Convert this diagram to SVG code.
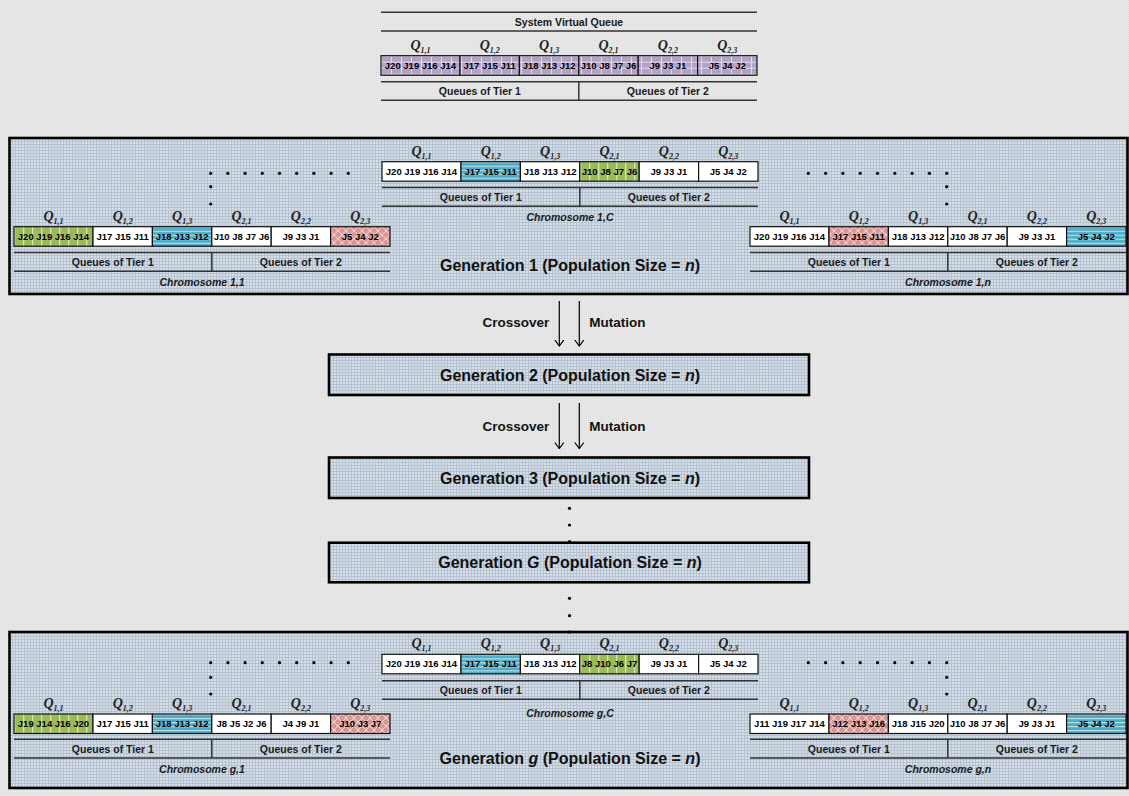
<svg xmlns="http://www.w3.org/2000/svg" width="1129" height="796" viewBox="0 0 1129 796">
<style>
.cell{stroke:#111;stroke-width:1.2}
.w{fill:#fff}
.g{fill:url(#pGreen)}
.b{fill:url(#pBlue)}
.r{fill:url(#pRed)}
.p{fill:url(#pPurple)}
.jt{font-family:"Liberation Sans",Arial,sans-serif;font-weight:bold;font-size:9.5px;text-anchor:middle;fill:#000}
.q{font-family:"Liberation Serif","Times New Roman",serif;font-style:italic;font-weight:bold;font-size:14px;text-anchor:middle;fill:#222}
.qs{font-size:8px}
.hl{stroke:#333;stroke-width:1.5;fill:none}
.tier{font-family:"Liberation Sans",Arial,sans-serif;font-weight:bold;font-size:10.5px;text-anchor:middle;fill:#1a1a1a}
.chr{font-family:"Liberation Sans",Arial,sans-serif;font-style:italic;font-weight:bold;font-size:10.5px;text-anchor:middle;fill:#1a1a1a}
.gen{font-family:"Liberation Sans",Arial,sans-serif;font-weight:bold;font-size:16px;text-anchor:middle;fill:#111}
.op{font-family:"Liberation Sans",Arial,sans-serif;font-weight:bold;font-size:13.5px;fill:#111}
.box{fill:url(#pBox);stroke:#000;stroke-width:2.6}
.arrow{stroke:#000;stroke-width:1.2;fill:none;marker-end:url(#arr)}
.dot{fill:#000}
</style>
<defs>
<pattern id="pBg" width="2" height="2" patternUnits="userSpaceOnUse"><rect width="2" height="2" fill="#e8e8e8"/><rect width="1" height="1" fill="#dcdcdc"/></pattern>
<pattern id="pBox" width="3" height="3" patternUnits="userSpaceOnUse"><rect width="3" height="3" fill="#d6dee8"/><rect width="3" height="1" fill="#b4c2d2"/><rect width="1" height="3" fill="#b4c2d2"/></pattern>
<pattern id="pGreen" width="9" height="10" patternUnits="userSpaceOnUse"><rect width="9" height="10" fill="#9bbb59"/><rect x="0" width="1.3" height="10" fill="#d5e3b6"/></pattern>
<pattern id="pBlue" width="10" height="4" patternUnits="userSpaceOnUse"><rect width="10" height="4" fill="#4bacc6"/><rect width="10" height="1.2" fill="#b9dfe9"/></pattern>
<pattern id="pRed" width="8" height="8" patternUnits="userSpaceOnUse"><rect width="8" height="8" fill="#d99694"/><path d="M0,0 L8,8 M8,0 L0,8" stroke="#f3dddc" stroke-width="1"/></pattern>
<pattern id="pPurple" width="10" height="6" patternUnits="userSpaceOnUse"><rect width="10" height="6" fill="#b3a2c7"/><rect width="10" height="1" fill="#e2dbeb"/><rect width="1" height="6" fill="#e2dbeb"/></pattern>
<marker id="arr" viewBox="0 0 7 10" refX="6.5" refY="5" markerWidth="7" markerHeight="10" markerUnits="userSpaceOnUse" orient="auto"><path d="M0.5,0.5 L6.5,5 L0.5,9.5" fill="none" stroke="#000" stroke-width="1.2"/></marker>
</defs>

<rect width="1129" height="796" fill="url(#pBg)"/>

<!-- System virtual queue -->
<g id="system-virtual-queue">
<line class="hl" x1="381" y1="12.3" x2="757" y2="12.3"/>
<text class="tier" x="569" y="25.5">System Virtual Queue</text>
<line class="hl" x1="381" y1="31" x2="757" y2="31"/>
<g transform="translate(381,55.7)">
<text class="q" x="39.5" y="-6">Q<tspan class="qs" dy="3">1,1</tspan></text>
<text class="q" x="108.7" y="-6">Q<tspan class="qs" dy="3">1,2</tspan></text>
<text class="q" x="168.1" y="-6">Q<tspan class="qs" dy="3">1,3</tspan></text>
<text class="q" x="227.5" y="-6">Q<tspan class="qs" dy="3">2,1</tspan></text>
<text class="q" x="286.9" y="-6">Q<tspan class="qs" dy="3">2,2</tspan></text>
<text class="q" x="346.3" y="-6">Q<tspan class="qs" dy="3">2,3</tspan></text>
<rect class="cell p" x="0" y="0" width="79" height="19.5"/>
<rect class="cell p" x="79" y="0" width="59.4" height="19.5"/>
<rect class="cell p" x="138.4" y="0" width="59.4" height="19.5"/>
<rect class="cell p" x="197.8" y="0" width="59.4" height="19.5"/>
<rect class="cell p" x="257.2" y="0" width="59.4" height="19.5"/>
<rect class="cell p" x="316.6" y="0" width="59.4" height="19.5"/>
<text class="jt" x="39.5" y="13.2">J20 J19 J16 J14</text>
<text class="jt" x="108.7" y="13.2">J17 J15 J11</text>
<text class="jt" x="168.1" y="13.2">J18 J13 J12</text>
<text class="jt" x="227.5" y="13.2">J10 J8 J7 J6</text>
<text class="jt" x="286.9" y="13.2">J9 J3 J1</text>
<text class="jt" x="346.3" y="13.2">J5 J4 J2</text>
<line class="hl" x1="0" y1="26" x2="376" y2="26"/>
<line class="hl" x1="0" y1="44.5" x2="376" y2="44.5"/>
<line class="hl" x1="197.8" y1="26" x2="197.8" y2="44.5"/>
<text class="tier" x="98.9" y="39">Queues of Tier 1</text>
<text class="tier" x="286.9" y="39">Queues of Tier 2</text>
</g>
</g>

<!-- Generation boxes -->
<g id="generation-1">
<rect class="box" x="9.5" y="138" width="1118" height="156"/>
<text class="gen" x="570" y="270.8">Generation 1 (Population Size = <tspan font-style="italic">n</tspan>)</text>
</g>
<g id="generation-2">
<rect class="box" x="329" y="354.5" width="480" height="40.5"/>
<text class="gen" x="570" y="380.8">Generation 2 (Population Size = <tspan font-style="italic">n</tspan>)</text>
</g>
<g id="generation-3">
<rect class="box" x="329" y="457.5" width="480" height="40.5"/>
<text class="gen" x="570" y="483.5">Generation 3 (Population Size = <tspan font-style="italic">n</tspan>)</text>
</g>
<g id="generation-G">
<rect class="box" x="329" y="542.7" width="480" height="39.6"/>
<text class="gen" x="570" y="567.5">Generation <tspan font-style="italic">G</tspan> (Population Size = <tspan font-style="italic">n</tspan>)</text>
</g>
<g id="generation-g">
<rect class="box" x="9.5" y="632" width="1118" height="156"/>
<text class="gen" x="570" y="764">Generation <tspan font-style="italic">g</tspan> (Population Size = <tspan font-style="italic">n</tspan>)</text>
</g>

<!-- Chromosome 1,1 -->
<g id="chromosome-1-1" transform="translate(14,226.7)">
<text class="q" x="39.5" y="-6">Q<tspan class="qs" dy="3">1,1</tspan></text>
<text class="q" x="108.7" y="-6">Q<tspan class="qs" dy="3">1,2</tspan></text>
<text class="q" x="168.1" y="-6">Q<tspan class="qs" dy="3">1,3</tspan></text>
<text class="q" x="227.5" y="-6">Q<tspan class="qs" dy="3">2,1</tspan></text>
<text class="q" x="286.9" y="-6">Q<tspan class="qs" dy="3">2,2</tspan></text>
<text class="q" x="346.3" y="-6">Q<tspan class="qs" dy="3">2,3</tspan></text>
<rect class="cell g" x="0" y="0" width="79" height="19.5"/>
<rect class="cell w" x="79" y="0" width="59.4" height="19.5"/>
<rect class="cell b" x="138.4" y="0" width="59.4" height="19.5"/>
<rect class="cell w" x="197.8" y="0" width="59.4" height="19.5"/>
<rect class="cell w" x="257.2" y="0" width="59.4" height="19.5"/>
<rect class="cell r" x="316.6" y="0" width="59.4" height="19.5"/>
<text class="jt" x="39.5" y="13.2">J20 J19 J16 J14</text>
<text class="jt" x="108.7" y="13.2">J17 J15 J11</text>
<text class="jt" x="168.1" y="13.2">J18 J13 J12</text>
<text class="jt" x="227.5" y="13.2">J10 J8 J7 J6</text>
<text class="jt" x="286.9" y="13.2">J9 J3 J1</text>
<text class="jt" x="346.3" y="13.2">J5 J4 J2</text>
<line class="hl" x1="0" y1="25.8" x2="376" y2="25.8"/>
<line class="hl" x1="0" y1="44.5" x2="376" y2="44.5"/>
<line class="hl" x1="197.8" y1="25.8" x2="197.8" y2="44.5"/>
<text class="tier" x="98.9" y="39">Queues of Tier 1</text>
<text class="tier" x="286.9" y="39">Queues of Tier 2</text>
<text class="chr" x="188" y="59">Chromosome 1,1</text>
</g>

<!-- Chromosome 1,C -->
<g id="chromosome-1-C" transform="translate(382,161.7)">
<text class="q" x="39.5" y="-6">Q<tspan class="qs" dy="3">1,1</tspan></text>
<text class="q" x="108.7" y="-6">Q<tspan class="qs" dy="3">1,2</tspan></text>
<text class="q" x="168.1" y="-6">Q<tspan class="qs" dy="3">1,3</tspan></text>
<text class="q" x="227.5" y="-6">Q<tspan class="qs" dy="3">2,1</tspan></text>
<text class="q" x="286.9" y="-6">Q<tspan class="qs" dy="3">2,2</tspan></text>
<text class="q" x="346.3" y="-6">Q<tspan class="qs" dy="3">2,3</tspan></text>
<rect class="cell w" x="0" y="0" width="79" height="19.5"/>
<rect class="cell b" x="79" y="0" width="59.4" height="19.5"/>
<rect class="cell w" x="138.4" y="0" width="59.4" height="19.5"/>
<rect class="cell g" x="197.8" y="0" width="59.4" height="19.5"/>
<rect class="cell w" x="257.2" y="0" width="59.4" height="19.5"/>
<rect class="cell w" x="316.6" y="0" width="59.4" height="19.5"/>
<text class="jt" x="39.5" y="13.2">J20 J19 J16 J14</text>
<text class="jt" x="108.7" y="13.2">J17 J15 J11</text>
<text class="jt" x="168.1" y="13.2">J18 J13 J12</text>
<text class="jt" x="227.5" y="13.2">J10 J8 J7 J6</text>
<text class="jt" x="286.9" y="13.2">J9 J3 J1</text>
<text class="jt" x="346.3" y="13.2">J5 J4 J2</text>
<line class="hl" x1="0" y1="25.8" x2="376" y2="25.8"/>
<line class="hl" x1="0" y1="44.5" x2="376" y2="44.5"/>
<line class="hl" x1="197.8" y1="25.8" x2="197.8" y2="44.5"/>
<text class="tier" x="98.9" y="39">Queues of Tier 1</text>
<text class="tier" x="286.9" y="39">Queues of Tier 2</text>
<text class="chr" x="188" y="59.3">Chromosome 1,C</text>
</g>

<!-- Chromosome 1,n -->
<g id="chromosome-1-n" transform="translate(750,226.7)">
<text class="q" x="39.5" y="-6">Q<tspan class="qs" dy="3">1,1</tspan></text>
<text class="q" x="108.7" y="-6">Q<tspan class="qs" dy="3">1,2</tspan></text>
<text class="q" x="168.1" y="-6">Q<tspan class="qs" dy="3">1,3</tspan></text>
<text class="q" x="227.5" y="-6">Q<tspan class="qs" dy="3">2,1</tspan></text>
<text class="q" x="286.9" y="-6">Q<tspan class="qs" dy="3">2,2</tspan></text>
<text class="q" x="346.3" y="-6">Q<tspan class="qs" dy="3">2,3</tspan></text>
<rect class="cell w" x="0" y="0" width="79" height="19.5"/>
<rect class="cell r" x="79" y="0" width="59.4" height="19.5"/>
<rect class="cell w" x="138.4" y="0" width="59.4" height="19.5"/>
<rect class="cell w" x="197.8" y="0" width="59.4" height="19.5"/>
<rect class="cell w" x="257.2" y="0" width="59.4" height="19.5"/>
<rect class="cell b" x="316.6" y="0" width="59.4" height="19.5"/>
<text class="jt" x="39.5" y="13.2">J20 J19 J16 J14</text>
<text class="jt" x="108.7" y="13.2">J17 J15 J11</text>
<text class="jt" x="168.1" y="13.2">J18 J13 J12</text>
<text class="jt" x="227.5" y="13.2">J10 J8 J7 J6</text>
<text class="jt" x="286.9" y="13.2">J9 J3 J1</text>
<text class="jt" x="346.3" y="13.2">J5 J4 J2</text>
<line class="hl" x1="0" y1="25.8" x2="376" y2="25.8"/>
<line class="hl" x1="0" y1="44.5" x2="376" y2="44.5"/>
<line class="hl" x1="197.8" y1="25.8" x2="197.8" y2="44.5"/>
<text class="tier" x="98.9" y="39">Queues of Tier 1</text>
<text class="tier" x="286.9" y="39">Queues of Tier 2</text>
<text class="chr" x="198" y="59">Chromosome 1,<tspan>n</tspan></text>
</g>

<!-- Chromosome g,1 -->
<g id="chromosome-g-1" transform="translate(14,714)">
<text class="q" x="39.5" y="-6">Q<tspan class="qs" dy="3">1,1</tspan></text>
<text class="q" x="108.7" y="-6">Q<tspan class="qs" dy="3">1,2</tspan></text>
<text class="q" x="168.1" y="-6">Q<tspan class="qs" dy="3">1,3</tspan></text>
<text class="q" x="227.5" y="-6">Q<tspan class="qs" dy="3">2,1</tspan></text>
<text class="q" x="286.9" y="-6">Q<tspan class="qs" dy="3">2,2</tspan></text>
<text class="q" x="346.3" y="-6">Q<tspan class="qs" dy="3">2,3</tspan></text>
<rect class="cell g" x="0" y="0" width="79" height="19.5"/>
<rect class="cell w" x="79" y="0" width="59.4" height="19.5"/>
<rect class="cell b" x="138.4" y="0" width="59.4" height="19.5"/>
<rect class="cell w" x="197.8" y="0" width="59.4" height="19.5"/>
<rect class="cell w" x="257.2" y="0" width="59.4" height="19.5"/>
<rect class="cell r" x="316.6" y="0" width="59.4" height="19.5"/>
<text class="jt" x="39.5" y="13.2">J19 J14 J16 J20</text>
<text class="jt" x="108.7" y="13.2">J17 J15 J11</text>
<text class="jt" x="168.1" y="13.2">J18 J13 J12</text>
<text class="jt" x="227.5" y="13.2">J8 J5 J2 J6</text>
<text class="jt" x="286.9" y="13.2">J4 J9 J1</text>
<text class="jt" x="346.3" y="13.2">J10 J3 J7</text>
<line class="hl" x1="0" y1="25.3" x2="376" y2="25.3"/>
<line class="hl" x1="0" y1="44" x2="376" y2="44"/>
<line class="hl" x1="197.8" y1="25.3" x2="197.8" y2="44"/>
<text class="tier" x="98.9" y="38.6">Queues of Tier 1</text>
<text class="tier" x="286.9" y="38.6">Queues of Tier 2</text>
<text class="chr" x="188" y="58.8">Chromosome g,1</text>
</g>

<!-- Chromosome g,C -->
<g id="chromosome-g-C" transform="translate(382,654.3)">
<text class="q" x="39.5" y="-6">Q<tspan class="qs" dy="3">1,1</tspan></text>
<text class="q" x="108.7" y="-6">Q<tspan class="qs" dy="3">1,2</tspan></text>
<text class="q" x="168.1" y="-6">Q<tspan class="qs" dy="3">1,3</tspan></text>
<text class="q" x="227.5" y="-6">Q<tspan class="qs" dy="3">2,1</tspan></text>
<text class="q" x="286.9" y="-6">Q<tspan class="qs" dy="3">2,2</tspan></text>
<text class="q" x="346.3" y="-6">Q<tspan class="qs" dy="3">2,3</tspan></text>
<rect class="cell w" x="0" y="0" width="79" height="19.5"/>
<rect class="cell b" x="79" y="0" width="59.4" height="19.5"/>
<rect class="cell w" x="138.4" y="0" width="59.4" height="19.5"/>
<rect class="cell g" x="197.8" y="0" width="59.4" height="19.5"/>
<rect class="cell w" x="257.2" y="0" width="59.4" height="19.5"/>
<rect class="cell w" x="316.6" y="0" width="59.4" height="19.5"/>
<text class="jt" x="39.5" y="13.2">J20 J19 J16 J14</text>
<text class="jt" x="108.7" y="13.2">J17 J15 J11</text>
<text class="jt" x="168.1" y="13.2">J18 J13 J12</text>
<text class="jt" x="227.5" y="13.2">J8 J10 J6 J7</text>
<text class="jt" x="286.9" y="13.2">J9 J3 J1</text>
<text class="jt" x="346.3" y="13.2">J5 J4 J2</text>
<line class="hl" x1="0" y1="26.5" x2="376" y2="26.5"/>
<line class="hl" x1="0" y1="45" x2="376" y2="45"/>
<line class="hl" x1="197.8" y1="26.5" x2="197.8" y2="45"/>
<text class="tier" x="98.9" y="39.7">Queues of Tier 1</text>
<text class="tier" x="286.9" y="39.7">Queues of Tier 2</text>
<text class="chr" x="188" y="62.8">Chromosome g,C</text>
</g>

<!-- Chromosome g,n -->
<g id="chromosome-g-n" transform="translate(750,714)">
<text class="q" x="39.5" y="-6">Q<tspan class="qs" dy="3">1,1</tspan></text>
<text class="q" x="108.7" y="-6">Q<tspan class="qs" dy="3">1,2</tspan></text>
<text class="q" x="168.1" y="-6">Q<tspan class="qs" dy="3">1,3</tspan></text>
<text class="q" x="227.5" y="-6">Q<tspan class="qs" dy="3">2,1</tspan></text>
<text class="q" x="286.9" y="-6">Q<tspan class="qs" dy="3">2,2</tspan></text>
<text class="q" x="346.3" y="-6">Q<tspan class="qs" dy="3">2,3</tspan></text>
<rect class="cell w" x="0" y="0" width="79" height="19.5"/>
<rect class="cell r" x="79" y="0" width="59.4" height="19.5"/>
<rect class="cell w" x="138.4" y="0" width="59.4" height="19.5"/>
<rect class="cell w" x="197.8" y="0" width="59.4" height="19.5"/>
<rect class="cell w" x="257.2" y="0" width="59.4" height="19.5"/>
<rect class="cell b" x="316.6" y="0" width="59.4" height="19.5"/>
<text class="jt" x="39.5" y="13.2">J11 J19 J17 J14</text>
<text class="jt" x="108.7" y="13.2">J12 J13 J16</text>
<text class="jt" x="168.1" y="13.2">J18 J15 J20</text>
<text class="jt" x="227.5" y="13.2">J10 J8 J7 J6</text>
<text class="jt" x="286.9" y="13.2">J9 J3 J1</text>
<text class="jt" x="346.3" y="13.2">J5 J4 J2</text>
<line class="hl" x1="0" y1="25.3" x2="376" y2="25.3"/>
<line class="hl" x1="0" y1="44" x2="376" y2="44"/>
<line class="hl" x1="197.8" y1="25.3" x2="197.8" y2="44"/>
<text class="tier" x="98.9" y="38.6">Queues of Tier 1</text>
<text class="tier" x="286.9" y="38.6">Queues of Tier 2</text>
<text class="chr" x="198" y="58.8">Chromosome g,n</text>
</g>

<!-- Ellipsis dots -->
<g id="ellipses" class="dot">
<g id="dots-gen1-left">
<circle cx="210.7" cy="173.3" r="1.6"/><circle cx="227.9" cy="173.3" r="1.6"/><circle cx="245.1" cy="173.3" r="1.6"/><circle cx="262.3" cy="173.3" r="1.6"/><circle cx="279.5" cy="173.3" r="1.6"/><circle cx="296.7" cy="173.3" r="1.6"/><circle cx="313.9" cy="173.3" r="1.6"/><circle cx="331.1" cy="173.3" r="1.6"/><circle cx="348.3" cy="173.3" r="1.6"/>
<circle cx="210.7" cy="186.7" r="1.6"/><circle cx="210.7" cy="204" r="1.6"/>
</g>
<g id="dots-gen1-right">
<circle cx="808.3" cy="173.3" r="1.6"/><circle cx="825.6" cy="173.3" r="1.6"/><circle cx="842.9" cy="173.3" r="1.6"/><circle cx="860.2" cy="173.3" r="1.6"/><circle cx="877.5" cy="173.3" r="1.6"/><circle cx="894.8" cy="173.3" r="1.6"/><circle cx="912.1" cy="173.3" r="1.6"/><circle cx="929.4" cy="173.3" r="1.6"/><circle cx="946.7" cy="173.3" r="1.6"/>
<circle cx="946.7" cy="186.7" r="1.6"/><circle cx="946.7" cy="204" r="1.6"/>
</g>
<g id="dots-geng-left">
<circle cx="210.7" cy="662.7" r="1.6"/><circle cx="227.9" cy="662.7" r="1.6"/><circle cx="245.1" cy="662.7" r="1.6"/><circle cx="262.3" cy="662.7" r="1.6"/><circle cx="279.5" cy="662.7" r="1.6"/><circle cx="296.7" cy="662.7" r="1.6"/><circle cx="313.9" cy="662.7" r="1.6"/><circle cx="331.1" cy="662.7" r="1.6"/><circle cx="348.3" cy="662.7" r="1.6"/>
<circle cx="210.7" cy="677.3" r="1.6"/><circle cx="210.7" cy="694" r="1.6"/>
</g>
<g id="dots-geng-right">
<circle cx="808.3" cy="662.7" r="1.6"/><circle cx="825.6" cy="662.7" r="1.6"/><circle cx="842.9" cy="662.7" r="1.6"/><circle cx="860.2" cy="662.7" r="1.6"/><circle cx="877.5" cy="662.7" r="1.6"/><circle cx="894.8" cy="662.7" r="1.6"/><circle cx="912.1" cy="662.7" r="1.6"/><circle cx="929.4" cy="662.7" r="1.6"/><circle cx="946.7" cy="662.7" r="1.6"/>
<circle cx="946.7" cy="677.3" r="1.6"/><circle cx="946.7" cy="694" r="1.6"/>
</g>
<g id="dots-generations">
<circle cx="569.5" cy="508.3" r="1.6"/><circle cx="569.5" cy="525" r="1.6"/><circle cx="569.5" cy="541.7" r="1.6"/>
<circle cx="569.5" cy="598.3" r="1.6"/><circle cx="569.5" cy="615.7" r="1.6"/><circle cx="569.5" cy="632" r="1.6"/>
</g>
</g>

<!-- Connectors -->
<g id="connectors">
<line class="arrow" x1="559.3" y1="301" x2="559.3" y2="346"/>
<line class="arrow" x1="579.3" y1="301" x2="579.3" y2="346"/>
<text class="op" x="549.3" y="327" text-anchor="end">Crossover</text>
<text class="op" x="589.3" y="327">Mutation</text>
<line class="arrow" x1="559.3" y1="403" x2="559.3" y2="448.5"/>
<line class="arrow" x1="579.3" y1="403" x2="579.3" y2="448.5"/>
<text class="op" x="549.3" y="430.5" text-anchor="end">Crossover</text>
<text class="op" x="589.3" y="430.5">Mutation</text>
</g>
</svg>
